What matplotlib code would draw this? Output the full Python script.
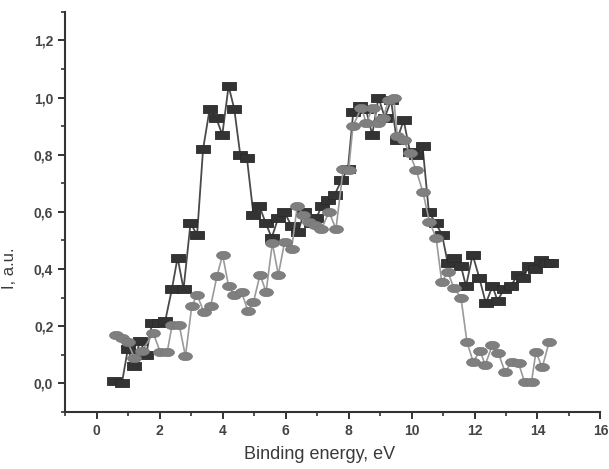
import numpy as np
import matplotlib
matplotlib.use('Agg')
import matplotlib.pyplot as plt
from matplotlib.path import Path
from matplotlib.transforms import Affine2D
from matplotlib.ticker import MultipleLocator, FuncFormatter

# black rectangles series
x_black = [0.55, 0.80, 0.99, 1.18, 1.37, 1.57, 1.76, 1.97, 2.18, 2.39,
           2.57, 2.76, 2.98, 3.19, 3.38, 3.59, 3.79, 3.99, 4.19, 4.37,
           4.56, 4.77, 4.98, 5.17, 5.37, 5.56, 5.77, 5.96, 6.19, 6.40,
           6.59, 6.80, 6.98, 7.15, 7.35, 7.56, 7.77, 7.98, 8.15, 8.35,
           8.55, 8.75, 8.95, 9.15, 9.35, 9.53, 9.75, 9.95, 10.15, 10.35,
           10.55, 10.77, 10.97, 11.15, 11.36, 11.57, 11.73, 11.94, 12.15, 12.36,
           12.57, 12.73, 12.94, 13.15, 13.37, 13.55, 13.73, 13.92, 14.10, 14.26,
           14.42]
y_black = [0.01, 0.00, 0.12, 0.06, 0.15, 0.10, 0.21, 0.21, 0.22, 0.33,
           0.44, 0.33, 0.56, 0.52, 0.82, 0.96, 0.93, 0.87, 1.04, 0.96,
           0.80, 0.79, 0.59, 0.62, 0.56, 0.51, 0.58, 0.60, 0.55, 0.53,
           0.60, 0.56, 0.58, 0.62, 0.64, 0.66, 0.71, 0.75, 0.95, 0.97,
           0.96, 0.87, 1.00, 0.93, 0.99, 0.85, 0.92, 0.81, 0.80, 0.83,
           0.60, 0.56, 0.52, 0.42, 0.44, 0.41, 0.34, 0.45, 0.37, 0.28,
           0.34, 0.29, 0.33, 0.34, 0.38, 0.37, 0.41, 0.40, 0.43, 0.42,
           0.42]

# gray ellipses series
x_gray = [0.60, 0.80, 0.98, 1.20, 1.45, 1.80, 2.02, 2.24, 2.40, 2.62,
          2.82, 3.02, 3.19, 3.40, 3.62, 3.82, 4.00, 4.19, 4.37, 4.60,
          4.80, 4.98, 5.19, 5.38, 5.58, 5.77, 5.97, 6.19, 6.37, 6.55,
          6.75, 6.95, 7.14, 7.38, 7.60, 7.83, 8.00, 8.14, 8.41, 8.56,
          8.77, 8.93, 9.10, 9.27, 9.43, 9.55, 9.75, 9.94, 10.15, 10.36,
          10.57, 10.78, 10.96, 11.15, 11.34, 11.57, 11.76, 11.96, 12.17, 12.34,
          12.57, 12.76, 12.97, 13.18, 13.40, 13.59, 13.81, 13.95, 14.15, 14.37]
y_gray = [0.17, 0.16, 0.145, 0.09, 0.115, 0.175, 0.11, 0.11, 0.205, 0.205,
          0.095, 0.27, 0.31, 0.25, 0.27, 0.375, 0.45, 0.34, 0.31, 0.32,
          0.255, 0.285, 0.38, 0.32, 0.49, 0.38, 0.495, 0.47, 0.62, 0.59,
          0.565, 0.555, 0.54, 0.60, 0.54, 0.75, 0.745, 0.90, 0.965, 0.91,
          0.965, 0.91, 0.93, 0.99, 1.00, 0.865, 0.85, 0.805, 0.745, 0.67,
          0.565, 0.51, 0.355, 0.39, 0.335, 0.30, 0.145, 0.075, 0.115, 0.065,
          0.135, 0.105, 0.04, 0.075, 0.07, 0.005, 0.005, 0.11, 0.056, 0.145]

# marker shapes (wide rectangle, flat ellipse)
rect = Path([(-1, -0.62), (1, -0.62), (1, 0.62), (-1, 0.62), (-1, -0.62)],
            [Path.MOVETO, Path.LINETO, Path.LINETO, Path.LINETO, Path.CLOSEPOLY])
ell = Path.unit_circle().transformed(Affine2D().scale(1.0, 0.6))

plt.rcParams['font.family'] = ['Liberation Sans', 'DejaVu Sans']

F = plt.figure(figsize=(6.09, 4.69), dpi=100)
ax = F.add_axes([0.107, 0.1215, 0.879, 0.8535])

ax.plot(x_black, y_black, '-', color='#4a4a4a', lw=1.3, marker=rect,
        ms=10, mfc='#333333', mec='#2a2a2a', mew=0.6, zorder=3)
ax.plot(x_gray, y_gray, '-', color='#9a9a9a', lw=1.2, marker=ell,
        ms=10, mfc='#7f7f7f', mec='#777777', mew=0.5, zorder=4)

ax.set_xlim(-1, 16)
ax.set_ylim(-0.1, 1.3)

ax.xaxis.set_major_locator(MultipleLocator(2))
ax.xaxis.set_minor_locator(MultipleLocator(1))
ax.yaxis.set_major_locator(MultipleLocator(0.2))
ax.yaxis.set_minor_locator(MultipleLocator(0.1))
ax.yaxis.set_major_formatter(FuncFormatter(lambda v, p: '{:.1f}'.format(v).replace('.', ',')))

for s in ['top', 'right']:
    ax.spines[s].set_visible(False)
for s in ['left', 'bottom']:
    ax.spines[s].set_color('#333333')
    ax.spines[s].set_linewidth(1.5)

ax.tick_params(which='major', direction='out', length=5, width=1.4,
               color='#333333', labelsize=10, labelcolor='#444444')
ax.tick_params(which='minor', direction='out', length=3, width=1.2, color='#333333')
for lab in ax.get_xticklabels() + ax.get_yticklabels():
    lab.set_fontweight('bold')

ax.set_xlabel('Binding energy, eV', fontsize=13, color='#3a3a3a')
ax.set_ylabel('I, a.u.', fontsize=12, color='#3a3a3a')
ax.xaxis.set_label_coords(0.475, -0.085)
ax.yaxis.set_label_coords(-0.09, 0.36)

plt.savefig('out.png', dpi=100, facecolor='white')
plt.close()
